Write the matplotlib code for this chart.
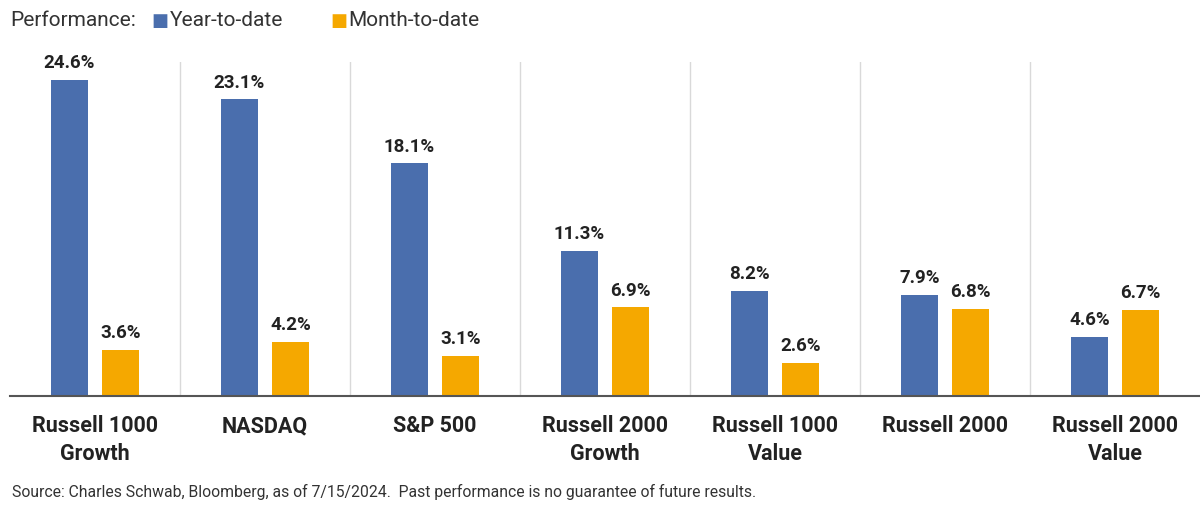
import matplotlib.pyplot as plt
import numpy as np

categories = ["Russell 1000\nGrowth", "NASDAQ", "S&P 500", "Russell 2000\nGrowth",
              "Russell 1000\nValue", "Russell 2000", "Russell 2000\nValue"]
ytd = [24.6, 23.1, 18.1, 11.3, 8.2, 7.9, 4.6]
mtd = [3.6, 4.2, 3.1, 6.9, 2.6, 6.8, 6.7]

blue = "#4a6ead"
orange = "#f5a800"
plt.rcParams['font.family'] = ['Roboto', 'DejaVu Sans']

fig = plt.figure(figsize=(12, 5.09), dpi=100)
ax = fig.add_axes([10/1200, 1-396/509, 1190/1200, (396-62)/509])
x = np.arange(len(categories))
w = 0.22
ax.bar(x - 0.15, ytd, w, color=blue)
ax.bar(x + 0.15, mtd, w, color=orange)
for i in range(len(x)):
    ax.text(x[i]-0.15, ytd[i]+0.6, f"{ytd[i]:.1f}%", ha='center', va='bottom', fontsize=13.5, fontweight='bold', color='#222')
    ax.text(x[i]+0.15, mtd[i]+0.6, f"{mtd[i]:.1f}%", ha='center', va='bottom', fontsize=13.5, fontweight='bold', color='#222')
for b in np.arange(0.5, len(x)-0.5, 1):
    ax.axvline(b, color='#d9d9d9', lw=1)
ax.set_xlim(-0.5, len(x)-0.5)
ax.set_ylim(0, 26)
for s in ['top', 'right', 'left']:
    ax.spines[s].set_visible(False)
ax.spines['bottom'].set_color('#555')
ax.spines['bottom'].set_linewidth(1.5)
ax.set_yticks([])
ax.set_xticks(x)
ax.set_xticklabels(categories, fontsize=15.5, fontweight='bold', color='#222', linespacing=1.3)
ax.tick_params(axis='x', length=0, pad=14)

y0 = 1-21/509
fig.text(10/1200, y0, "Performance:", fontsize=15, va='center', color='#333')
fig.text(151/1200, y0, "■", fontsize=13, va='center', color=blue)
fig.text(170/1200, y0, "Year-to-date", fontsize=15, va='center', color='#333')
fig.text(330/1200, y0, "■", fontsize=13, va='center', color=orange)
fig.text(348/1200, y0, "Month-to-date", fontsize=15, va='center', color='#333')
fig.text(12/1200, 1-492/509, "Source: Charles Schwab, Bloomberg, as of 7/15/2024.  Past performance is no guarantee of future results.",
         fontsize=11.3, va='center', color='#333')
fig.savefig("out.png")
